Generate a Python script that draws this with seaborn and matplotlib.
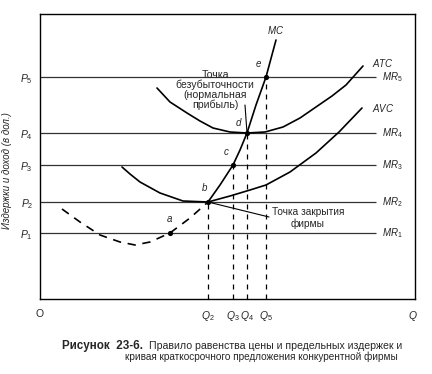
import matplotlib
matplotlib.use("Agg")
import matplotlib.pyplot as plt
import seaborn as sns
import pandas as pd

# price levels and outputs
price_labels = ["$P_1$", "$P_2$", "$P_3$", "$P_4$", "$P_5$"]
prices = [66, 97, 134, 166, 222]
mr_labels = ["$MR_1$", "$MR_2$", "$MR_3$", "$MR_4$", "$MR_5$"]
mr_end = 336

q_labels = ["$Q_2$", "$Q_3$", "$Q_4$", "$Q_5$"]
quantities = [168, 193, 207, 226]

# MC below the AVC minimum (dashed)
mc_low_x = [22, 40, 60, 80, 95, 110, 130, 150, 168]
mc_low_y = [90, 77, 64, 57, 54, 57, 66, 81, 97]
# MC above the AVC minimum (supply curve)
mc_x = [168, 180, 193, 200, 207, 216, 226, 236]
mc_y = [97, 114, 134, 149, 166, 194, 222, 259]

atc_x = [117, 130, 147, 160, 173, 190, 207, 225, 243, 260, 276, 292, 306, 323]
atc_y = [211, 197, 186, 178, 171, 167, 166, 167, 172, 181, 192, 203, 214, 233]

avc_x = [82, 90, 100, 120, 143, 168, 190, 210, 226, 250, 276, 299, 322]
avc_y = [132, 125, 117, 106, 98, 97, 103, 109, 114, 127, 146, 167, 191]

# equilibrium points a..e
pt_names = ["a", "b", "c", "d", "e"]
pt_x = [130, 168, 193, 207, 226]
pt_y = [66, 97, 134, 166, 222]

fig = plt.figure(figsize=(4.32, 3.74), dpi=100)
sns.set_theme(style="white")
plt.rcParams["font.family"] = ["Liberation Sans", "DejaVu Sans"]
plt.rcParams["mathtext.fontset"] = "custom"
plt.rcParams["mathtext.it"] = "Liberation Sans:italic"
plt.rcParams["mathtext.rm"] = "Liberation Sans"

ax = fig.add_axes([40 / 432, 75 / 374, 375 / 432, 285 / 374])
ax.set_xlim(0, 375)
ax.set_ylim(0, 285)

# price lines MR1..MR5
ax.hlines(prices, 0, mr_end, color="#333333", lw=0.9)
for p, lab in zip(prices, mr_labels):
    ax.text(mr_end + 6, p, lab, fontsize=7, va="center", ha="left")

# dashed drop lines to Q2..Q5
ax.vlines(quantities, 0, prices[1:], color="black", lw=0.9, linestyles=(0, (4, 4)))

curves = pd.DataFrame({"x": mc_x, "y": mc_y})
sns.lineplot(data=curves, x="x", y="y", ax=ax, color="black", lw=1.2, sort=False)
sns.lineplot(x=mc_low_x, y=mc_low_y, ax=ax, color="black", lw=1.2, sort=False,
             linestyle=(0, (5, 4)))
sns.lineplot(x=atc_x, y=atc_y, ax=ax, color="black", lw=1.2, sort=False)
sns.lineplot(x=avc_x, y=avc_y, ax=ax, color="black", lw=1.2, sort=False)

sns.scatterplot(x=pt_x, y=pt_y, ax=ax, color="black", s=14, zorder=5, linewidth=0)
offsets = {"a": (-1, 14), "b": (-3, 14), "c": (-7, 13), "d": (-9, 10), "e": (-8, 13)}
for n, x, y in zip(pt_names, pt_x, pt_y):
    dx, dy = offsets[n]
    ax.text(x + dx, y + dy, n, fontsize=7, style="italic", ha="center", va="center")

ax.text(236, 269, "$MC$", fontsize=7, ha="center", va="center")
ax.text(332, 236, "$ATC$", fontsize=7, ha="left", va="center")
ax.text(332, 191, "$AVC$", fontsize=7, ha="left", va="center")

# annotations: text blocks and their pointer lines
ax.text(175, 209, "Точка\nбезубыточности\n(нормальная\nприбыль)", fontsize=7.6,
        ha="center", va="center", linespacing=1.0)
ax.annotate("", xy=(pt_x[3], pt_y[3]), xytext=(205, 194),
            arrowprops=dict(arrowstyle="-", color="black", lw=0.8, shrinkA=0, shrinkB=0))
ax.text(268, 81, "Точка закрытия\nфирмы", fontsize=7.3, ha="center", va="center",
        linespacing=1.1)
ax.annotate("", xy=(pt_x[1], pt_y[1]), xytext=(229, 82),
            arrowprops=dict(arrowstyle="-", color="black", lw=0.8, shrinkA=0, shrinkB=0))

ax.set_yticks(prices)
ax.set_yticklabels(price_labels, fontsize=7.5)
ax.set_xticks([0] + quantities + [373])
ax.set_xticklabels(["O"] + q_labels + ["$Q$"], fontsize=7.5)
ax.tick_params(length=0, pad=5)
ax.tick_params(axis="x", pad=7)
ax.set_xlabel("")
ax.set_ylabel("Издержки и доход (в дол.)", fontsize=7, style="italic")
ax.yaxis.set_label_coords(-0.075, 0.45)
for s in ax.spines.values():
    s.set_color("black")
    s.set_linewidth(1.0)

fig.text(62 / 432, 1 - 346 / 374, "Рисунок  23-6.", fontsize=8.4, weight="bold",
         ha="left", va="center")
fig.text(402 / 432, 1 - 346 / 374, "Правило равенства цены и предельных издержек и",
         fontsize=7.6, ha="right", va="center")
fig.text(398 / 432, 1 - 357 / 374, "кривая краткосрочного предложения конкурентной фирмы",
         fontsize=7.2, ha="right", va="center")

fig.savefig("out.png", dpi=100)
